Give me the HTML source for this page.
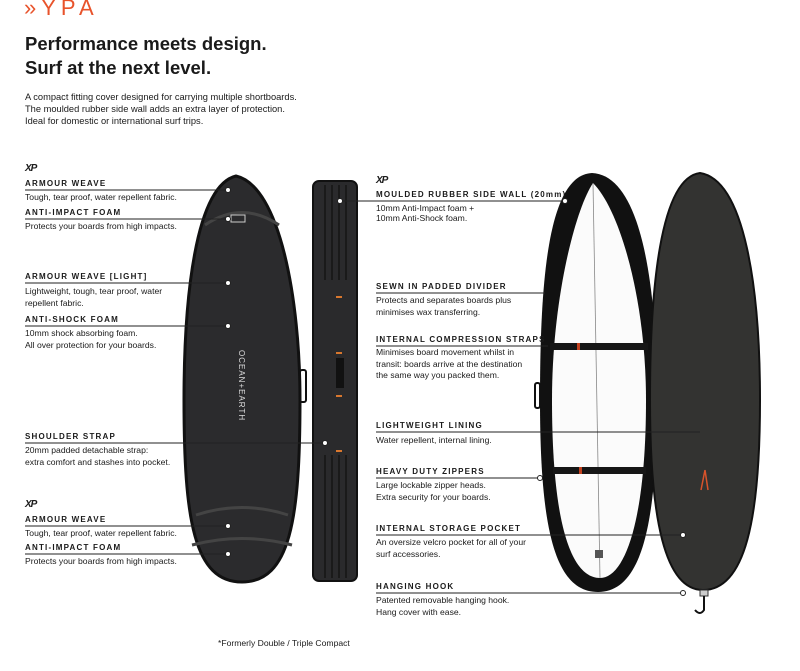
<!DOCTYPE html><html><head><meta charset="utf-8"><style>
body{margin:0;width:800px;height:671px;background:#fff;position:relative;overflow:hidden;font-family:"Liberation Sans",sans-serif;color:#1a1a1a}
.a{position:absolute;white-space:nowrap}
.h{font-size:8px;font-weight:bold;letter-spacing:1.2px;line-height:10px}
.d{font-size:8.6px;line-height:12px}
.xp{font-size:10px;font-weight:bold;font-style:italic;letter-spacing:-1px}
</style></head><body>
<div class="a" style="left:24px;top:-5px;font-size:22px;color:#e8532b;letter-spacing:5px;font-weight:normal">&#187;YPA</div>
<div class="a" style="left:25px;top:32px;font-size:18.5px;font-weight:bold;line-height:24px">Performance meets design.<br>Surf at the next level.</div>
<div class="a d" style="left:25px;top:91px;font-size:9.3px">A compact fitting cover designed for carrying multiple shortboards.<br>The moulded rubber side wall adds an extra layer of protection.<br>Ideal for domestic or international surf trips.</div>

<svg class="a" style="left:0;top:0" width="800" height="671">
<path d="M236,176 C280,186 300,300 300,400 C300,520 290,582 242,582 C194,582 184,520 184,400 C184,300 195,186 236,176 Z" fill="#2b2b2d" stroke="#111" stroke-width="3"/>
<path d="M205,225 Q242,200 279,225" stroke="#444" stroke-width="3" fill="none"/>
<path d="M196,515 Q242,500 288,515" stroke="#444" stroke-width="3" fill="none"/>
<path d="M192,545 Q242,532 292,545" stroke="#444" stroke-width="3" fill="none"/>
<rect x="231" y="215" width="14" height="7" fill="none" stroke="#ccc" stroke-width="1"/>
<text x="0" y="0" transform="translate(239,350) rotate(90)" fill="#ddd" font-size="8" font-family="Liberation Sans" letter-spacing="1">OCEAN+EARTH</text>
<rect x="300" y="370" width="6" height="32" rx="2" fill="none" stroke="#111" stroke-width="2"/>
<rect x="313" y="181" width="44" height="400" rx="6" fill="#2a2a2c" stroke="#111" stroke-width="2"/>
<g stroke="#151515" stroke-width="1.5"><line x1="325" y1="185" x2="325" y2="280"/><line x1="332" y1="185" x2="332" y2="280"/><line x1="339" y1="185" x2="339" y2="280"/><line x1="346" y1="185" x2="346" y2="280"/>
<line x1="325" y1="455" x2="325" y2="578"/><line x1="332" y1="455" x2="332" y2="578"/><line x1="339" y1="455" x2="339" y2="578"/><line x1="346" y1="455" x2="346" y2="578"/></g>
<g fill="#d8772e"><rect x="336" y="296" width="6" height="2"/><rect x="336" y="352" width="6" height="2"/><rect x="336" y="395" width="6" height="2"/><rect x="336" y="450" width="6" height="2"/></g>
<rect x="336" y="358" width="8" height="30" fill="#111"/>
<path d="M592,173 C640,175 657,280 657,400 C657,530 640,592 598,592 C555,592 540,530 540,400 C540,280 548,175 592,173 Z" fill="#111"/>
<path d="M593,183 C620,210 646,300 646,400 C646,520 625,578 600,578 C570,578 552,520 552,400 C552,300 575,210 593,183 Z" fill="#fbfbfb"/>
<line x1="593" y1="183" x2="600" y2="578" stroke="#888" stroke-width="0.8"/>
<rect x="550" y="343" width="98" height="7" fill="#161616"/><rect x="577" y="343" width="3" height="7" fill="#c2401e"/>
<rect x="553" y="467" width="93" height="7" fill="#161616"/><rect x="579" y="467" width="3" height="7" fill="#c2401e"/>
<rect x="595" y="550" width="8" height="8" fill="#555"/>
<rect x="535" y="383" width="5" height="25" rx="2" fill="none" stroke="#111" stroke-width="2"/>
<path d="M700,173 C745,180 760,290 760,400 C760,520 745,590 703,590 C665,590 650,520 650,400 C650,290 660,178 700,173 Z" fill="#333331" stroke="#111" stroke-width="2"/>
<path d="M705,470 L701,490 M705,470 L708,490" stroke="#d8532b" stroke-width="1.5" fill="none"/>
<rect x="700" y="590" width="8" height="6" fill="#ccc" stroke="#333"/>
<path d="M704,596 L704,610 Q700,616 695,610" stroke="#111" stroke-width="2" fill="none"/>
<g stroke="#222" stroke-width="1" fill="#fff">
<line x1="25" y1="190" x2="228" y2="190"/><circle cx="228" cy="190" r="2.5"/>
<line x1="25" y1="219" x2="228" y2="219"/><circle cx="228" cy="219" r="2.5"/>
<line x1="25" y1="283" x2="228" y2="283"/><circle cx="228" cy="283" r="2.5"/>
<line x1="25" y1="326" x2="228" y2="326"/><circle cx="228" cy="326" r="2.5"/>
<line x1="25" y1="443" x2="325" y2="443"/><circle cx="325" cy="443" r="2.5"/>
<line x1="25" y1="526" x2="228" y2="526"/><circle cx="228" cy="526" r="2.5"/>
<line x1="25" y1="554" x2="228" y2="554"/><circle cx="228" cy="554" r="2.5"/>
<line x1="340" y1="201" x2="565" y2="201"/><circle cx="340" cy="201" r="2.5"/><circle cx="565" cy="201" r="2.5"/>
<line x1="376" y1="293" x2="545" y2="293"/>
<line x1="376" y1="346" x2="548" y2="346"/>
<line x1="376" y1="432" x2="700" y2="432"/>
<line x1="376" y1="478" x2="540" y2="478"/><circle cx="540" cy="478" r="2.5"/>
<line x1="376" y1="535" x2="683" y2="535"/><circle cx="683" cy="535" r="2.5"/>
<line x1="376" y1="593" x2="683" y2="593"/><circle cx="683" cy="593" r="2.5"/>
</g>
</svg>

<div class="a xp" style="left:25px;top:163px">XP</div>
<div class="a h" style="left:25px;top:179px">ARMOUR WEAVE</div>
<div class="a d" style="left:25px;top:191px">Tough, tear proof, water repellent fabric.</div>
<div class="a h" style="left:25px;top:208px">ANTI-IMPACT FOAM</div>
<div class="a d" style="left:25px;top:220px">Protects your boards from high impacts.</div>
<div class="a h" style="left:25px;top:272px">ARMOUR WEAVE [LIGHT]</div>
<div class="a d" style="left:25px;top:285px">Lightweight, tough, tear proof, water<br>repellent fabric.</div>
<div class="a h" style="left:25px;top:315px">ANTI-SHOCK FOAM</div>
<div class="a d" style="left:25px;top:327px">10mm shock absorbing foam.<br>All over protection for your boards.</div>
<div class="a h" style="left:25px;top:432px">SHOULDER STRAP</div>
<div class="a d" style="left:25px;top:444px">20mm padded detachable strap:<br>extra comfort and stashes into pocket.</div>
<div class="a xp" style="left:25px;top:499px">XP</div>
<div class="a h" style="left:25px;top:515px">ARMOUR WEAVE</div>
<div class="a d" style="left:25px;top:527px">Tough, tear proof, water repellent fabric.</div>
<div class="a h" style="left:25px;top:543px">ANTI-IMPACT FOAM</div>
<div class="a d" style="left:25px;top:555px">Protects your boards from high impacts.</div>

<div class="a xp" style="left:376px;top:175px">XP</div>
<div class="a h" style="left:376px;top:190px">MOULDED RUBBER SIDE WALL (20mm)</div>
<div class="a d" style="left:376px;top:203px;line-height:10px">10mm Anti-Impact foam +<br>10mm Anti-Shock foam.</div>
<div class="a h" style="left:376px;top:282px">SEWN IN PADDED DIVIDER</div>
<div class="a d" style="left:376px;top:294px">Protects and separates boards plus<br>minimises wax transferring.</div>
<div class="a h" style="left:376px;top:335px">INTERNAL COMPRESSION STRAPS</div>
<div class="a d" style="left:376px;top:347px;line-height:11.5px">Minimises board movement whilst in<br>transit: boards arrive at the destination<br>the same way you packed them.</div>
<div class="a h" style="left:376px;top:421px">LIGHTWEIGHT LINING</div>
<div class="a d" style="left:376px;top:434px">Water repellent, internal lining.</div>
<div class="a h" style="left:376px;top:467px">HEAVY DUTY ZIPPERS</div>
<div class="a d" style="left:376px;top:479px">Large lockable zipper heads.<br>Extra security for your boards.</div>
<div class="a h" style="left:376px;top:524px">INTERNAL STORAGE POCKET</div>
<div class="a d" style="left:376px;top:536px">An oversize velcro pocket for all of your<br>surf accessories.</div>
<div class="a h" style="left:376px;top:582px">HANGING HOOK</div>
<div class="a d" style="left:376px;top:594px">Patented removable hanging hook.<br>Hang cover with ease.</div>

<div class="a d" style="left:218px;top:637px">*Formerly Double / Triple Compact</div>
</body></html>
